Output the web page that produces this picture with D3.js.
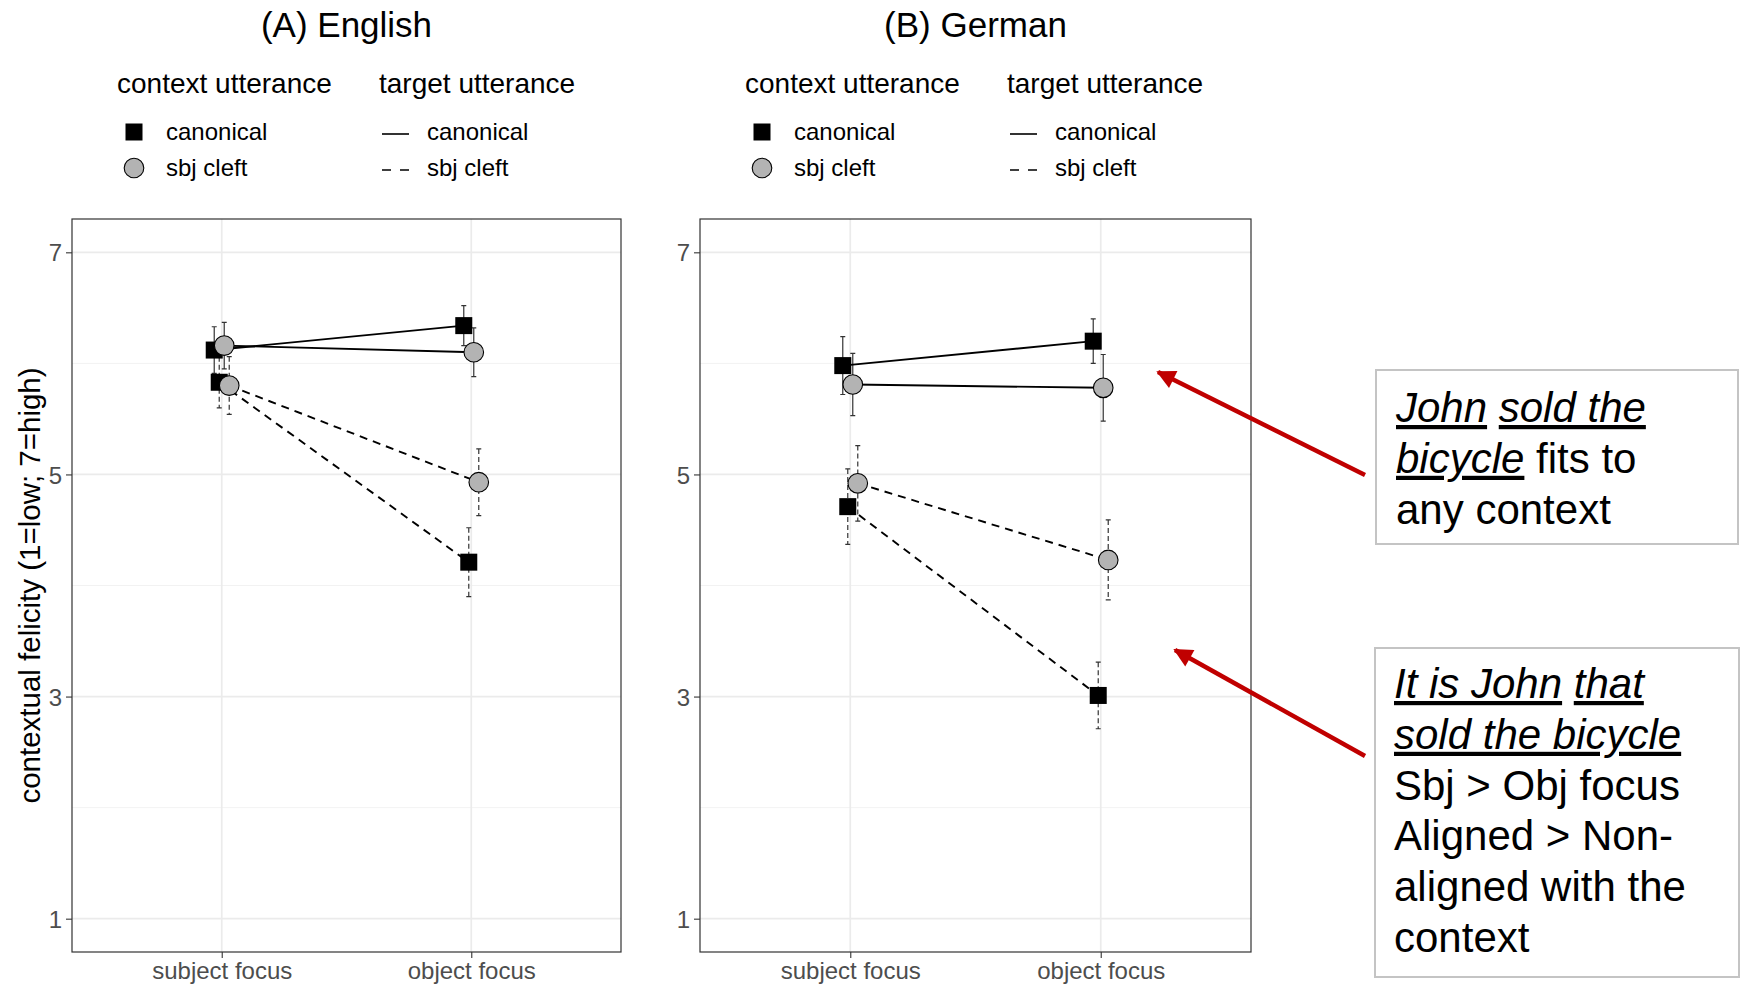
<!DOCTYPE html>
<html lang="en">
<head>
  <meta charset="UTF-8">
  <title>contextual felicity</title>
  <style>
    body { margin: 0; background: #fff; }
    svg text { font-family: "Liberation Sans", Arial, sans-serif; }
    .grid-major { stroke: #ebebeb; stroke-width: 1.7; }
    .grid-minor { stroke: #f0f0f0; stroke-width: 0.9; }
    .tick-lab { fill: #4d4d4d; }
  </style>
</head>
<body>
  <div id="chart"></div>
  <script src="https://cdn.jsdelivr.net/npm/d3@7"></script>
  <script>
    // data
    var categories = ['subject focus', 'object focus'];
    var yTicks = [1, 3, 5, 7];
    var yMinor = [2, 4, 6];
    var contextLevels = ['canonical', 'sbj cleft'];
    var targetLevels = ['canonical', 'sbj cleft'];
    var panelTitles = ['(A) English', '(B) German'];

    // english: mean and half-width of the error bar, per category
    var enCanCan = [6.12, 6.34];
    var enCanCanErr = [0.21, 0.18];
    var enCanCleft = [5.83, 4.21];
    var enCanCleftErr = [0.23, 0.31];
    var enCleftCan = [6.16, 6.10];
    var enCleftCanErr = [0.21, 0.22];
    var enCleftCleft = [5.80, 4.93];
    var enCleftCleftErr = [0.26, 0.30];

    // german
    var deCanCan = [5.98, 6.20];
    var deCanCanErr = [0.26, 0.20];
    var deCanCleft = [4.71, 3.01];
    var deCanCleftErr = [0.34, 0.30];
    var deCleftCan = [5.81, 5.78];
    var deCleftCanErr = [0.28, 0.30];
    var deCleftCleft = [4.92, 4.23];
    var deCleftCleftErr = [0.34, 0.36];

    function groups(a, ae, b, be, c, ce, d, de) {
      // order = ggplot group order (context, target)
      return [
        { ctx: 0, tgt: 0, mean: a, err: ae },
        { ctx: 0, tgt: 1, mean: b, err: be },
        { ctx: 1, tgt: 0, mean: c, err: ce },
        { ctx: 1, tgt: 1, mean: d, err: de }
      ];
    }
    var panels = [
      { title: panelTitles[0], left: 72, right: 621,
        groups: groups(enCanCan, enCanCanErr, enCanCleft, enCanCleftErr, enCleftCan, enCleftCanErr, enCleftCleft, enCleftCleftErr) },
      { title: panelTitles[1], left: 700, right: 1251,
        groups: groups(deCanCan, deCanCanErr, deCanCleft, deCanCleftErr, deCleftCan, deCleftCanErr, deCleftCleft, deCleftCleftErr) }
    ];

    var W = 1740, H = 986;
    var pTop = 219, pBottom = 952;
    var dodge = 5; // px between dodged groups

    var svg = d3.select('#chart').append('svg')
      .attr('width', W).attr('height', H);

    var y = d3.scaleLinear().domain([0.7, 7.3]).range([pBottom, pTop]);

    // y axis title
    svg.append('text')
      .attr('transform', 'translate(40,' + ((pTop + pBottom) / 2) + ') rotate(-90)')
      .attr('text-anchor', 'middle')
      .style('font-size', '29.5px')
      .attr('fill', '#000')
      .text('contextual felicity (1=low; 7=high)');

    panels.forEach(function (p) {
      var x = d3.scalePoint().domain(categories).range([p.left, p.right]).padding(0.6);
      var g = svg.append('g');

      // grid
      g.selectAll('line.gmin').data(yMinor).enter().append('line')
        .attr('class', 'grid-minor')
        .attr('x1', p.left).attr('x2', p.right)
        .attr('y1', function (d) { return y(d); })
        .attr('y2', function (d) { return y(d); });
      g.selectAll('line.gmaj').data(yTicks).enter().append('line')
        .attr('class', 'grid-major')
        .attr('x1', p.left).attr('x2', p.right)
        .attr('y1', function (d) { return y(d); })
        .attr('y2', function (d) { return y(d); });
      g.selectAll('line.gx').data(categories).enter().append('line')
        .attr('class', 'grid-major')
        .attr('x1', function (d) { return x(d); })
        .attr('x2', function (d) { return x(d); })
        .attr('y1', pTop).attr('y2', pBottom);

      // axes
      var ya = g.append('g').attr('transform', 'translate(' + p.left + ',0)')
        .call(d3.axisLeft(y).tickValues(yTicks).tickSize(6).tickPadding(4).tickFormat(d3.format('d')));
      ya.select('.domain').remove();
      ya.selectAll('line').attr('stroke', '#333').attr('stroke-width', 1.1);
      ya.selectAll('text').attr('class', 'tick-lab').style('font-size', '24px')
        .attr('fill', '#4d4d4d').attr('dy', '0.36em');

      var xa = g.append('g').attr('transform', 'translate(0,' + pBottom + ')')
        .call(d3.axisBottom(x).tickSize(6).tickPadding(4));
      xa.select('.domain').remove();
      xa.selectAll('line').attr('stroke', '#333').attr('stroke-width', 1.1);
      xa.selectAll('text').attr('class', 'tick-lab').style('font-size', '24px')
        .attr('fill', '#4d4d4d').attr('dy', '0.7em');

      // error bars
      var xs = function (gr, i) { return x(categories[i]) + (gr.idx - 1.5) * dodge; };
      p.groups.forEach(function (gr, k) { gr.idx = k; });

      p.groups.forEach(function (gr) {
        var eb = g.append('g')
          .attr('stroke', '#333')
          .attr('stroke-width', 1.2)
          .attr('stroke-dasharray', gr.tgt === 1 ? '5,3' : null);
        eb.selectAll('path').data(categories).enter().append('path')
          .attr('fill', 'none')
          .attr('d', function (c, i) {
            var cx = xs(gr, i), y0 = y(gr.mean[i] - gr.err[i]), y1 = y(gr.mean[i] + gr.err[i]);
            return 'M' + (cx - 2.5) + ',' + y1 + 'H' + (cx + 2.5) +
              'M' + cx + ',' + y1 + 'V' + y0 +
              'M' + (cx - 2.5) + ',' + y0 + 'H' + (cx + 2.5);
          });
      });

      // lines
      var line = d3.line();
      p.groups.forEach(function (gr) {
        g.append('path')
          .attr('fill', 'none')
          .attr('stroke', '#000')
          .attr('stroke-width', 1.9)
          .attr('stroke-dasharray', gr.tgt === 1 ? '8,6' : null)
          .attr('d', line(categories.map(function (c, i) { return [xs(gr, i), y(gr.mean[i])]; })));
      });

      // points
      p.groups.forEach(function (gr) {
        categories.forEach(function (c, i) {
          var cx = xs(gr, i), cy = y(gr.mean[i]);
          if (gr.ctx === 0) {
            g.append('rect')
              .attr('x', cx - 8.5).attr('y', cy - 8.5)
              .attr('width', 17).attr('height', 17)
              .attr('fill', '#000');
          } else {
            g.append('circle')
              .attr('cx', cx).attr('cy', cy).attr('r', 9.8)
              .attr('fill', '#b3b3b3').attr('stroke', '#000').attr('stroke-width', 1.1);
          }
        });
      });

      // panel border
      g.append('rect')
        .attr('x', p.left).attr('y', pTop)
        .attr('width', p.right - p.left).attr('height', pBottom - pTop)
        .attr('fill', 'none').attr('stroke', '#333').attr('stroke-width', 1.2);

      // title
      svg.append('text')
        .attr('x', (p.left + p.right) / 2).attr('y', 37)
        .attr('text-anchor', 'middle')
        .style('font-size', '35px')
        .text(p.title);

      // legends
      var L = svg.append('g').attr('transform', 'translate(' + p.left + ',0)');
      L.append('text').attr('x', 45).attr('y', 93).style('font-size', '28px').text('context utterance');
      L.append('text').attr('x', 307).attr('y', 93).style('font-size', '28px').text('target utterance');
      var rowY = [132, 168];
      contextLevels.forEach(function (lab, i) {
        if (i === 0) {
          L.append('rect').attr('x', 62 - 8.5).attr('y', rowY[i] - 8.5)
            .attr('width', 17).attr('height', 17).attr('fill', '#000');
        } else {
          L.append('circle').attr('cx', 62).attr('cy', rowY[i]).attr('r', 9.8)
            .attr('fill', '#b3b3b3').attr('stroke', '#000').attr('stroke-width', 1.1);
        }
        L.append('text').attr('x', 94).attr('y', rowY[i] + 8).style('font-size', '24px').text(lab);
      });
      targetLevels.forEach(function (lab, i) {
        L.append('line').attr('x1', 310).attr('x2', 337)
          .attr('y1', rowY[i] + 2).attr('y2', rowY[i] + 2)
          .attr('stroke', '#000').attr('stroke-width', 1.6)
          .attr('stroke-dasharray', i === 1 ? '9,9' : null);
        L.append('text').attr('x', 355).attr('y', rowY[i] + 8).style('font-size', '24px').text(lab);
      });
    });

    // annotations
    svg.append('defs').append('marker')
      .attr('id', 'head')
      .attr('viewBox', '0 0 10 10')
      .attr('refX', 9).attr('refY', 5)
      .attr('markerWidth', 5).attr('markerHeight', 4.2)
      .attr('orient', 'auto')
      .append('path').attr('d', 'M0,0L10,5L0,10z').attr('fill', '#c00000');

    var arrows = [
      { x1: 1365, y1: 475, x2: 1158, y2: 372 },
      { x1: 1365, y1: 756, x2: 1175, y2: 650 }
    ];
    svg.selectAll('line.arrow').data(arrows).enter().append('line')
      .attr('class', 'arrow')
      .attr('x1', function (d) { return d.x1; }).attr('y1', function (d) { return d.y1; })
      .attr('x2', function (d) { return d.x2; }).attr('y2', function (d) { return d.y2; })
      .attr('stroke', '#c00000').attr('stroke-width', 4.5)
      .attr('marker-end', 'url(#head)');

    // each line is a list of [text, italic+underline]
    var boxes = [
      { x: 1376, y: 370, w: 362, h: 174, tx: 1396, ty: 422, lines: [
        [['John', 1], [' ', 0], ['sold the', 1]],
        [['bicycle', 1], [' fits to', 0]],
        [['any context', 0]]
      ] },
      { x: 1375, y: 648, w: 364, h: 329, tx: 1394, ty: 698, lines: [
        [['It is John', 1], [' ', 0], ['that', 1]],
        [['sold the bicycle', 1]],
        [['Sbj > Obj focus', 0]],
        [['Aligned > Non-', 0]],
        [['aligned with the', 0]],
        [['context', 0]]
      ] }
    ];
    boxes.forEach(function (b) {
      svg.append('rect')
        .attr('x', b.x).attr('y', b.y).attr('width', b.w).attr('height', b.h)
        .attr('fill', '#fff').attr('stroke', '#c4c4c4').attr('stroke-width', 2);
      b.lines.forEach(function (ln, i) {
        var t = svg.append('text')
          .attr('x', b.tx).attr('y', b.ty + i * 50.8)
          .style('font-size', '42px').attr('fill', '#000');
        ln.forEach(function (seg) {
          t.append('tspan')
            .style('font-style', seg[1] ? 'italic' : 'normal')
            .style('text-decoration', seg[1] ? 'underline' : 'none')
            .style('white-space', 'pre')
            .text(seg[0]);
        });
      });
    });
  </script>
</body>
</html>
